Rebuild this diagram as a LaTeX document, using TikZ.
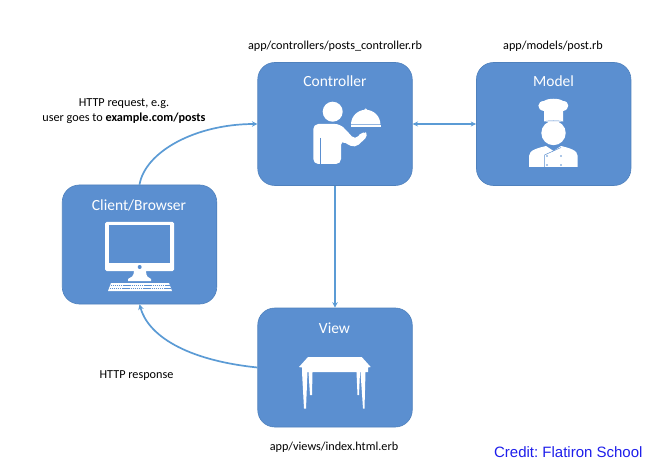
\documentclass[tikz,border=0pt]{standalone}
\usepackage{fontspec}
\setmainfont{Carlito}
\newfontfamily\creditfont{Liberation Sans}
\usetikzlibrary{arrows.meta}
\definecolor{boxblue}{HTML}{5B8FD0}
\definecolor{boxedge}{HTML}{4F81BD}
\definecolor{linkblue}{HTML}{5B9BD5}
\frenchspacing
\tikzset{
  card/.style={draw=boxedge,line width=0.6pt,fill=boxblue,rounded corners=17pt,minimum width=154.5pt,minimum height=123pt,inner sep=0pt},
  cardtitle/.style={text=white,font=\fontsize{15.5}{18}\selectfont,inner sep=0pt},
  caption/.style={text=black,font=\fontsize{12.2}{15}\selectfont,inner sep=0pt,align=center},
  link/.style={draw=linkblue,line width=1.7pt,-{Stealth[length=5.5pt,width=5.5pt]}},
  duplex/.style={draw=linkblue,line width=1.2pt,{Stealth[length=5.5pt,width=5pt]}-{Stealth[length=5.5pt,width=5pt]}},
  icon/.style={fill=white,draw=none},
}
\begin{document}
\begin{tikzpicture}[x=1pt,y=-1pt]
\useasboundingbox (0,0) rectangle (663,470);
\fill[white] (0,0) rectangle (663,470);

\node[card] (controller) at (335,124) {};
\node[card] (model) at (553.7,124) {};
\node[card,minimum height=119pt] (client) at (139.5,244.5) {};
\node[card,minimum height=119pt] (view) at (335,367.5) {};

\node[cardtitle] (tc) at (335,81) {Controller};
\node[cardtitle] (tm) at (553.5,81) {Model};
\node[cardtitle] (tb) at (139,205) {Client/Browser};
\node[cardtitle] (tv) at (334.5,328) {View};

\draw[duplex] (controller.east) -- (model.west);
\draw[link] (controller.south) -- (view.north);
\draw[link] (client.north) .. controls (145,152) and (195,124) .. (controller.west);
\draw[link] (view.west) .. controls (185,360) and (148,335) .. (client.south);

% waiter
\fill[icon] (332.7,111.7) circle (10);
\fill[icon,rounded corners=5pt] (313.3,164) -- (313.3,124) -- (340,124) -- (347,131) -- (355,140) -- (363,130.5) -- (369,135) -- (355,148) -- (345,143) -- (341,140) -- (341,164) -- cycle;
\draw[boxblue,line width=0.7pt] (320.5,138) -- (320.5,164);
\fill[icon] (351,124.5) arc[start angle=180,end angle=360,radius=14.7] -- cycle;
\fill[icon] (351,125.2) rectangle (380.5,127);
\draw[white,line width=0.8pt] (365.7,110.5) circle (1.6);

% chef
\fill[icon] (544,122) -- (544,111) .. controls (536,110) and (537,101) .. (544,101) .. controls (548,98) and (559,98) .. (563,101) .. controls (570,101) and (570,110) .. (563,111) -- (563,122) -- cycle;
\fill[icon] (553.5,133) circle (12.2);
\draw[boxblue,line width=0.5pt] (544,121.5) .. controls (550,120.5) and (557,120.5) .. (563,121.5);
\fill[icon] (529,167) -- (529,156) .. controls (529,150) and (538,148) .. (546,146) -- (553.5,151) -- (561,146) .. controls (569,148) and (577.7,150) .. (577.7,156) -- (577.7,167) -- cycle;
\draw[boxblue,line width=0.5pt] (544.5,167) -- (544.5,155) -- (561,147.5);
\fill[boxblue] (547,156) circle (.9) (547,165) circle (.9) (561,156) circle (.9) (561,165) circle (.9);

% monitor
\fill[icon,rounded corners=1.5pt] (105,222) rectangle (174,271);
\fill[boxblue] (109,225.5) rectangle (170,263);
\fill[boxblue] (139.7,267) circle (2);
\fill[icon] (134,271) -- (146,271) .. controls (146,276) and (148,278) .. (151,279) -- (151,281) -- (128,281) -- (128,279) .. controls (131,278) and (134,276) .. (134,271) -- cycle;
\fill[icon] (111,283) -- (169,283) -- (172,291) -- (108,291) -- cycle;
\draw[boxblue,line width=0.35pt,dash pattern=on 1.4pt off 0.7pt] (110.5,285.5) -- (169.5,285.5) (109.5,288) -- (170.5,288);

% table
\fill[icon] (308,357) -- (361.7,357) -- (370.7,367) -- (368,367.5) -- (368,372) -- (365.5,372) -- (364.5,408.5) -- (363,408.5) -- (360.5,372) -- (360,372) -- (359,395) -- (357.5,395) -- (356.5,372) -- (312.5,372) -- (312,395) -- (310,395) -- (308.5,372) -- (307.5,372) -- (306,408.5) -- (304,408.5) -- (302,372) -- (302,367.5) -- (299,367) -- cycle;

% captions
\node[caption] (c1) at (335,46.5) {app/controllers/posts\_controller.rb};
\node[caption] (c2) at (553,46.5) {app/models/post.rb};
\node[caption,align=center] (c3) at (124,111) {HTTP request, e.g.\\ user goes to \textbf{example.com/posts}};
\node[caption] (c4) at (136.5,376) {HTTP response};
\node[caption] (c5) at (334,447.5) {app/views/index.html.erb};
\node[inner sep=0pt,text={rgb,255:red,30;green,30;blue,235},font=\creditfont\fontsize{15}{17}\selectfont] (credit) at (568.3,452.5) {Credit: Flatiron School};
\end{tikzpicture}
\end{document}
